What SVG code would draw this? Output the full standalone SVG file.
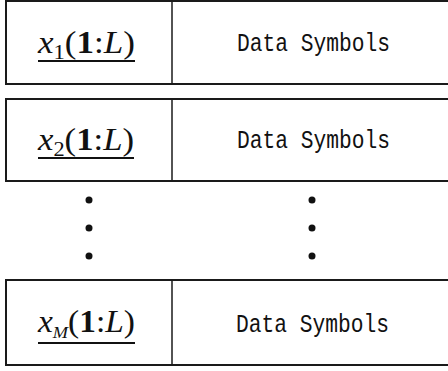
<svg xmlns="http://www.w3.org/2000/svg" width="448" height="371" viewBox="0 0 448 371">
<style>
.box{fill:none;stroke:#1a1a1a;stroke-width:2}
.div{stroke:#1a1a1a;stroke-width:1.5}
.lbl{font-family:"Liberation Serif","Times New Roman",serif;font-size:31px;fill:#111}
.ds{font-family:"Liberation Mono","DejaVu Sans Mono",monospace;font-size:26px;fill:#111}
.ul{stroke:#111;stroke-width:2.2}
.dot{fill:#111}
</style>
<rect width="448" height="371" fill="#fff"/>
<g id="row1">
<rect class="box" x="6" y="1" width="450" height="83"/>
<line class="div" x1="172" y1="1" x2="172" y2="84"/>
<text class="lbl" x="38" y="53" textLength="97" lengthAdjust="spacingAndGlyphs"><tspan font-style="italic">x</tspan><tspan font-size="20" dy="6">1</tspan><tspan dy="-6">(</tspan><tspan font-weight="bold">1</tspan><tspan>:</tspan><tspan font-style="italic">L</tspan><tspan>)</tspan></text>
<line class="ul" x1="38" y1="61" x2="135" y2="61"/>
<text class="ds" x="237" y="51" textLength="153" lengthAdjust="spacingAndGlyphs">Data Symbols</text>
</g>
<g id="row2">
<rect class="box" x="6" y="99" width="450" height="82"/>
<line class="div" x1="172" y1="99" x2="172" y2="181"/>
<text class="lbl" x="38" y="150" textLength="96" lengthAdjust="spacingAndGlyphs"><tspan font-style="italic">x</tspan><tspan font-size="20" dy="6">2</tspan><tspan dy="-6">(</tspan><tspan font-weight="bold">1</tspan><tspan>:</tspan><tspan font-style="italic">L</tspan><tspan>)</tspan></text>
<line class="ul" x1="38" y1="158" x2="134" y2="158"/>
<text class="ds" x="237" y="148" textLength="153" lengthAdjust="spacingAndGlyphs">Data Symbols</text>
</g>
<g id="dots">
<circle class="dot" cx="89" cy="200" r="3.5"/>
<circle class="dot" cx="89" cy="228" r="3.5"/>
<circle class="dot" cx="89" cy="256" r="3.5"/>
<circle class="dot" cx="312" cy="200" r="3.5"/>
<circle class="dot" cx="312" cy="228" r="3.5"/>
<circle class="dot" cx="312" cy="256" r="3.5"/>
</g>
<g id="row3">
<rect class="box" x="6" y="280" width="450" height="85"/>
<line class="div" x1="172" y1="280" x2="172" y2="365"/>
<text class="lbl" x="38" y="332" textLength="97" lengthAdjust="spacingAndGlyphs"><tspan font-style="italic">x</tspan><tspan font-size="17" font-style="italic" dy="6">M</tspan><tspan dy="-6">(</tspan><tspan font-weight="bold">1</tspan><tspan>:</tspan><tspan font-style="italic">L</tspan><tspan>)</tspan></text>
<line class="ul" x1="38" y1="343" x2="135" y2="343"/>
<text class="ds" x="236" y="332" textLength="153" lengthAdjust="spacingAndGlyphs">Data Symbols</text>
</g>
<g id="connectors"></g>
</svg>
